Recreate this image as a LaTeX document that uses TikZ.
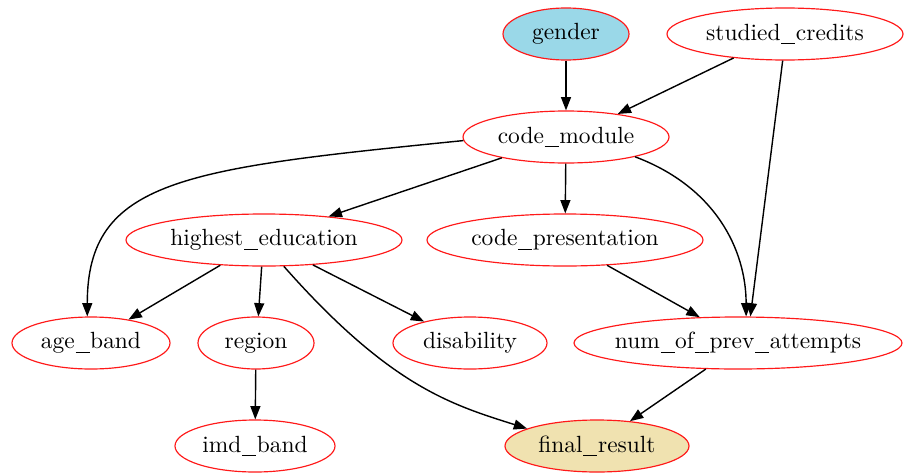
\documentclass[tikz,border=0pt]{standalone}
\usetikzlibrary{shapes.geometric}
\usetikzlibrary{arrows.meta}

% short underscore, as in the variable names
\newcommand{\usc}{\kern0.3pt\rule[-1.7pt]{0.21cm}{0.45pt}\kern0.3pt}

\begin{document}
\begin{tikzpicture}[x=0.015cm,y=0.015cm,
  var/.style={ellipse,draw=varcontour,line width=0.5pt,inner xsep=-4pt,inner ysep=0pt,minimum height=\varheight},
  link/.style={-{Triangle[length=0.2cm,width=0.15cm]},line width=0.6pt,draw=black}]

\colorlet{varcontour}{red!90!white}
\definecolor{inputcolor}{RGB}{154, 216, 232}
\definecolor{targetcolor}{RGB}{240, 226, 176}

\def\varheight{0.78cm}

\useasboundingbox (0,0) rectangle (904,-475);

% DRAW THE VARIABLES
\node[var,fill=inputcolor,minimum width=1.89cm] (gender) at (566,-34) {gender};
\node[var,minimum width=3.54cm] (credits) at (785,-34) {studied\usc credits};
\node[var,minimum width=3.09cm] (module) at (566,-137) {code\usc module};
\node[var,minimum width=4.14cm] (education) at (264,-240) {highest\usc education};
\node[var,minimum width=4.14cm] (presentation) at (565,-240) {code\usc presentation};
\node[var,minimum width=2.37cm] (age) at (91,-343) {age\usc band};
\node[var,minimum width=1.74cm] (region) at (256,-343) {region};
\node[var,minimum width=2.31cm] (disability) at (470,-343) {disability};
\node[var,minimum width=4.92cm] (attempts) at (738,-343) {num\usc of\usc prev\usc attempts};
\node[var,minimum width=2.40cm] (imd) at (255,-446) {imd\usc band};
\node[var,fill=targetcolor,minimum width=2.76cm] (result) at (597,-446) {final\usc result};

% DRAW THE STRAIGHT LINKS
\draw[link] (gender) -- (module);
\draw[link] (credits.205.6) -- (module.24);
\draw[link] (credits.265.6) -- (attempts.65);
\draw[link] (module.198.4) -- (education.20);
\draw[link] (module) -- (presentation);
\draw[link] (education.210.8) -- (age.32.7);
\draw[link] (education.265.6) -- (region.85.6);
\draw[link] (education.333) -- (disability.155);
\draw[link] (presentation.329.8) -- (attempts.146.7);
\draw[link] (attempts.219) -- (result.37);
\draw[link] (region) -- (imd);

% DRAW THE CURVED LINKS
\draw[link] (module.182) .. controls +(-279,-28) and +(0,137) .. (age.98.7);
\draw[link] (module.344.7) .. controls +(80,-30) and +(0,67) .. (attempts.73);
\draw[link] (education.307.6) .. controls +(106,-120) and +(-76,24) .. (result.166.3);

\end{tikzpicture}
\end{document}
